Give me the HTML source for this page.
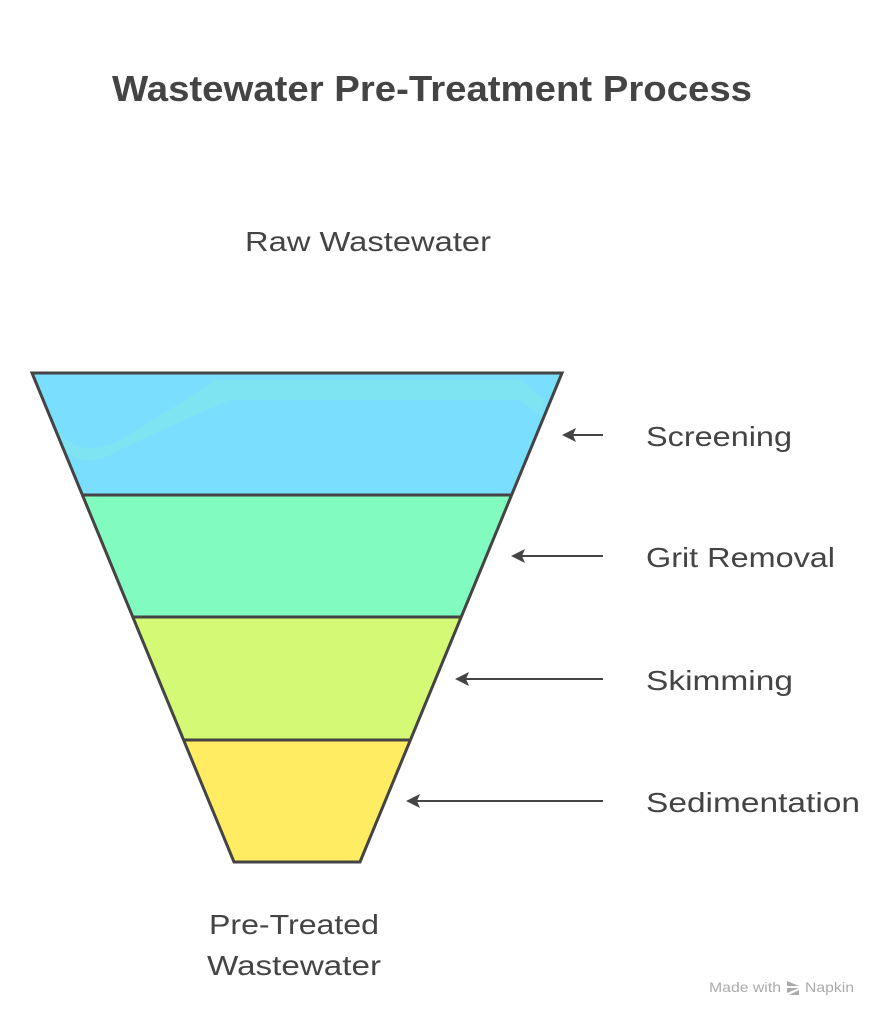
<!DOCTYPE html>
<html><head><meta charset="utf-8"><style>
html,body{margin:0;padding:0;background:#fff;}
svg{display:block;}
text{font-family:"Liberation Sans",sans-serif;fill:#444;}
</style></head><body>
<svg width="886" height="1024" viewBox="0 0 886 1024">
<text x="112" y="101" font-size="36" font-weight="bold" fill="#3c3c3c" textLength="640" lengthAdjust="spacingAndGlyphs">Wastewater Pre-Treatment Process</text>
<text x="245" y="251" font-size="28" textLength="246" lengthAdjust="spacingAndGlyphs">Raw Wastewater</text>
<polygon points="32,373 562,373 511.6,495 82.4,495" fill="#7ADEFE"/>
<path d="M57,430 Q80,460 120,440 Q170,410 215,380 L520,380 L545,400 L540,415 L520,400 L230,400 Q160,430 110,455 Q80,470 60,445 Z" fill="#86F0DE" opacity="0.35"/>
<polygon points="82.4,495 511.6,495 461.2,617 132.8,617" fill="#82FBC0"/>
<polygon points="132.8,617 461.2,617 410.4,740 183.6,740" fill="#D4F974"/>
<polygon points="183.6,740 410.4,740 360,862 234,862" fill="#FFEC63"/>
<g stroke="#444" stroke-width="3" fill="none">
<polygon points="32,373 562,373 360,862 234,862" stroke-linejoin="miter"/>
<line x1="82.4" y1="495" x2="511.6" y2="495"/>
<line x1="132.8" y1="617" x2="461.2" y2="617"/>
<line x1="183.6" y1="740" x2="410.4" y2="740"/>
<line x1="603" y1="435" x2="572" y2="435" stroke-width="2"/>
<line x1="603" y1="556" x2="521" y2="556" stroke-width="2"/>
<line x1="603" y1="679" x2="465" y2="679" stroke-width="2"/>
<line x1="603" y1="801" x2="416" y2="801" stroke-width="2"/>
</g>
<g fill="#444">
<polygon points="562,435 576,428 573,435 576,442"/>
<polygon points="511,556 525,549 522,556 525,563"/>
<polygon points="455,679 469,672 466,679 469,686"/>
<polygon points="406,801 420,794 417,801 420,808"/>
</g>
<text x="646" y="446" font-size="28" textLength="146" lengthAdjust="spacingAndGlyphs">Screening</text>
<text x="646" y="567" font-size="28" textLength="189" lengthAdjust="spacingAndGlyphs">Grit Removal</text>
<text x="646" y="690" font-size="28" textLength="147" lengthAdjust="spacingAndGlyphs">Skimming</text>
<text x="646" y="812" font-size="28" textLength="214" lengthAdjust="spacingAndGlyphs">Sedimentation</text>
<text x="209" y="934" font-size="28" textLength="170" lengthAdjust="spacingAndGlyphs">Pre-Treated</text>
<text x="207" y="975" font-size="28" textLength="174" lengthAdjust="spacingAndGlyphs">Wastewater</text>
<text x="709" y="992" font-size="14" style="fill:#aaa" textLength="72" lengthAdjust="spacingAndGlyphs">Made with</text>
<g fill="#aaa"><polygon points="787,981 799,986 787,986"/><polygon points="787,988 799,988 787,993"/><polygon points="789,995 799,990 799,995"/></g>
<text x="805" y="992" font-size="14" style="fill:#aaa" textLength="49" lengthAdjust="spacingAndGlyphs">Napkin</text>
</svg>
</body></html>
